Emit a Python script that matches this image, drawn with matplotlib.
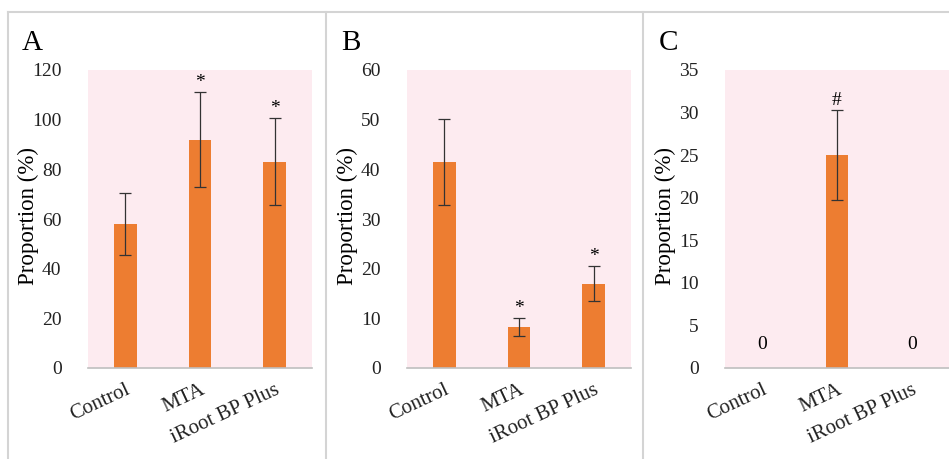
import matplotlib
matplotlib.use("Agg")
import matplotlib.pyplot as plt
from matplotlib.lines import Line2D

# data
groups = ["Control", "MTA", "iRoot BP Plus"]
panel_names = ["A", "B", "C"]

vals_a = [58, 92, 83]
err_a = [12.5, 19, 17.5]
marks_a = ["", "*", "*"]

vals_b = [41.5, 8.2, 17]
err_b = [8.7, 1.8, 3.5]
marks_b = ["", "*", "*"]

vals_c = [0, 25, 0]
err_c = [0, 5.3, 0]
marks_c = ["", "#", ""]

ymax = [120, 60, 35]
ystep = [20, 10, 5]

W, H = 949, 459
fig = plt.figure(figsize=(W / 100, H / 100), dpi=100)
plt.rcParams["font.family"] = ["Liberation Serif", "DejaVu Serif"]

pink = "#fdebf0"
orange = "#ed7d31"
gray = "#d4d4d4"

# panel frame lines
fig.add_artist(Line2D([8 / W, 1], [1 - 12 / H, 1 - 12 / H], color=gray, lw=1.5))
for xp in [8, 326, 643]:
    fig.add_artist(Line2D([xp / W, xp / W], [0, 1 - 12 / H], color=gray, lw=1.5))

lefts = [88, 407, 725]
datasets = [(vals_a, err_a, marks_a), (vals_b, err_b, marks_b), (vals_c, err_c, marks_c)]

for i, (vals, errs, marks) in enumerate(datasets):
    left = lefts[i]
    ax = fig.add_axes([left / W, (H - 368) / H, 224 / W, 298 / H])
    ax.set_facecolor(pink)
    x = [0, 1, 2]
    ax.bar(x, vals, width=0.3, color=orange, zorder=2)
    for xi, v, e in zip(x, vals, errs):
        if e > 0:
            ax.errorbar(xi, v, yerr=e, color="#333333", lw=0.9, capsize=4,
                        capthick=0.9, zorder=3)
    off = ymax[i] * 0.005
    for xi, v, e, m in zip(x, vals, errs, marks):
        if m:
            ax.text(xi, v + e + off, m, ha="center", va="bottom", fontsize=14)
    if i == 2:
        for xi, v in zip(x, vals):
            if v == 0:
                ax.text(xi, ymax[i] * 0.08, "0", ha="center", va="center", fontsize=14)
    ax.set_xlim(-0.5, 2.5)
    ax.set_ylim(0, ymax[i])
    ax.set_yticks(range(0, ymax[i] + 1, ystep[i]))
    ax.set_xticks(x)
    ax.set_xticklabels(groups, rotation=25, ha="right", va="top",
                       rotation_mode="anchor", fontsize=15)
    ax.tick_params(axis="both", length=0, labelsize=14, colors="#222222")
    ax.tick_params(axis="x", labelsize=15, pad=9)
    ax.tick_params(axis="y", pad=19)
    for s in ["top", "right", "left"]:
        ax.spines[s].set_visible(False)
    ax.spines["bottom"].set_color("#bfbfbf")
    ax.spines["bottom"].set_linewidth(1.2)
    ax.spines["bottom"].set_zorder(4)
    fig.text((left - 60) / W, (H - 216) / H, "Proportion (%)", rotation=90,
             ha="center", va="center", fontsize=16.5)
    fig.text((left - 66) / W, (H - 43) / H, panel_names[i], ha="left",
             va="center", fontsize=21)

fig.savefig("out.png", dpi=100)
